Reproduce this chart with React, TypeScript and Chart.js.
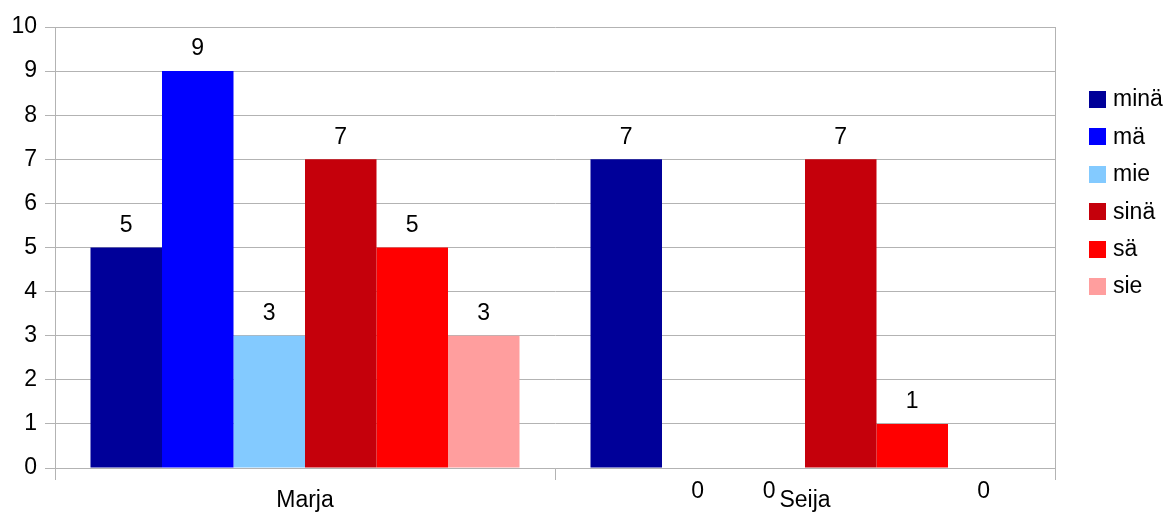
import React, { useEffect, useRef } from "react";
import { Chart, registerables } from "chart.js";

Chart.register(...registerables);

const categories = ["Marja", "Seija"];
const seriesNames = ["minä", "mä", "mie", "sinä", "sä", "sie"];
const seriesColors = ["#000099", "#0000ff", "#83caff", "#c5000b", "#ff0000", "#ff9e9e"];
const minaValues = [5, 7];
const maValues = [9, 0];
const mieValues = [3, 0];
const sinaValues = [7, 7];
const saValues = [5, 1];
const sieValues = [3, 0];
const yTicks = [0, 1, 2, 3, 4, 5, 6, 7, 8, 9, 10];

const FONT = "'Liberation Sans', Arial, sans-serif";
const FS = 23;

const labelPlugin = {
  id: "barLabels",
  afterDatasetsDraw(chart: any) {
    const ctx = chart.ctx;
    ctx.save();
    ctx.font = `${FS}px ${FONT}`;
    ctx.fillStyle = "#000";
    ctx.textAlign = "center";
    ctx.textBaseline = "middle";
    chart.data.datasets.forEach((ds: any, i: number) => {
      const meta = chart.getDatasetMeta(i);
      meta.data.forEach((bar: any, j: number) => {
        const v = ds.data[j];
        if (v === 0) {
          ctx.fillText(String(v), bar.x, chart.chartArea.bottom + 24);
        } else {
          ctx.fillText(String(v), bar.x, bar.y - 22);
        }
      });
    });
    // right border
    const a = chart.chartArea;
    ctx.strokeStyle = "#b3b3b3";
    ctx.lineWidth = 1;
    ctx.beginPath();
    ctx.moveTo(Math.round(a.right) + 0.5, a.top);
    ctx.lineTo(Math.round(a.right) + 0.5, a.bottom);
    ctx.stroke();
    // legend
    const lx = 1089;
    const ly0 = 99;
    const step = 37.4;
    ctx.textAlign = "left";
    seriesNames.forEach((name, i) => {
      const y = ly0 + i * step;
      ctx.fillStyle = seriesColors[i];
      ctx.fillRect(lx, Math.round(y - 8), 17, 17);
      ctx.fillStyle = "#000";
      ctx.fillText(name, lx + 24, y + 1);
    });
    ctx.restore();
  },
};

export default function App() {
  const ref = useRef<HTMLCanvasElement>(null);
  useEffect(() => {
    const values = [minaValues, maValues, mieValues, sinaValues, saValues, sieValues];
    const chart = new Chart(ref.current!, {
      type: "bar",
      data: {
        labels: categories,
        datasets: seriesNames.map((n, i) => ({
          label: n,
          data: values[i],
          backgroundColor: seriesColors[i],
          borderWidth: 0,
          categoryPercentage: 0.858,
          barPercentage: 1,
        })),
      },
      options: {
        animation: false,
        responsive: false,
        layout: { padding: { top: 27, right: 115, left: 0, bottom: 0 } },
        plugins: { legend: { display: false }, tooltip: { enabled: false } },
        scales: {
          x: {
            afterFit: (s: any) => {
              s.height = 46;
            },
            grid: {
              offset: true,
              color: (c: any) => (c.index === 1 ? "rgba(0,0,0,0)" : "#b3b3b3"),
              tickColor: "#b3b3b3",
              tickLength: 12,
              drawOnChartArea: true,
            },
            border: { color: "#b3b3b3" },
            ticks: {
              color: "#000",
              font: { family: FONT, size: FS },
              padding: 7,
            },
          },
          y: {
            min: 0,
            max: 10,
            afterFit: (s: any) => {
              s.width = 55;
            },
            afterBuildTicks: (s: any) => {
              s.ticks = yTicks.map((v) => ({ value: v }));
            },
            grid: { color: "#b3b3b3", tickColor: "#b3b3b3", tickLength: 10 },
            border: { color: "#b3b3b3" },
            ticks: {
              color: "#000",
              font: { family: FONT, size: FS },
              padding: 8,
            },
          },
        },
      },
      plugins: [labelPlugin],
    });
    return () => chart.destroy();
  }, []);
  return (
    <canvas
      ref={ref}
      width={1170}
      height={514}
      style={{ position: "fixed", left: 0, top: 0, width: 1170, height: 514 }}
    />
  );
}
